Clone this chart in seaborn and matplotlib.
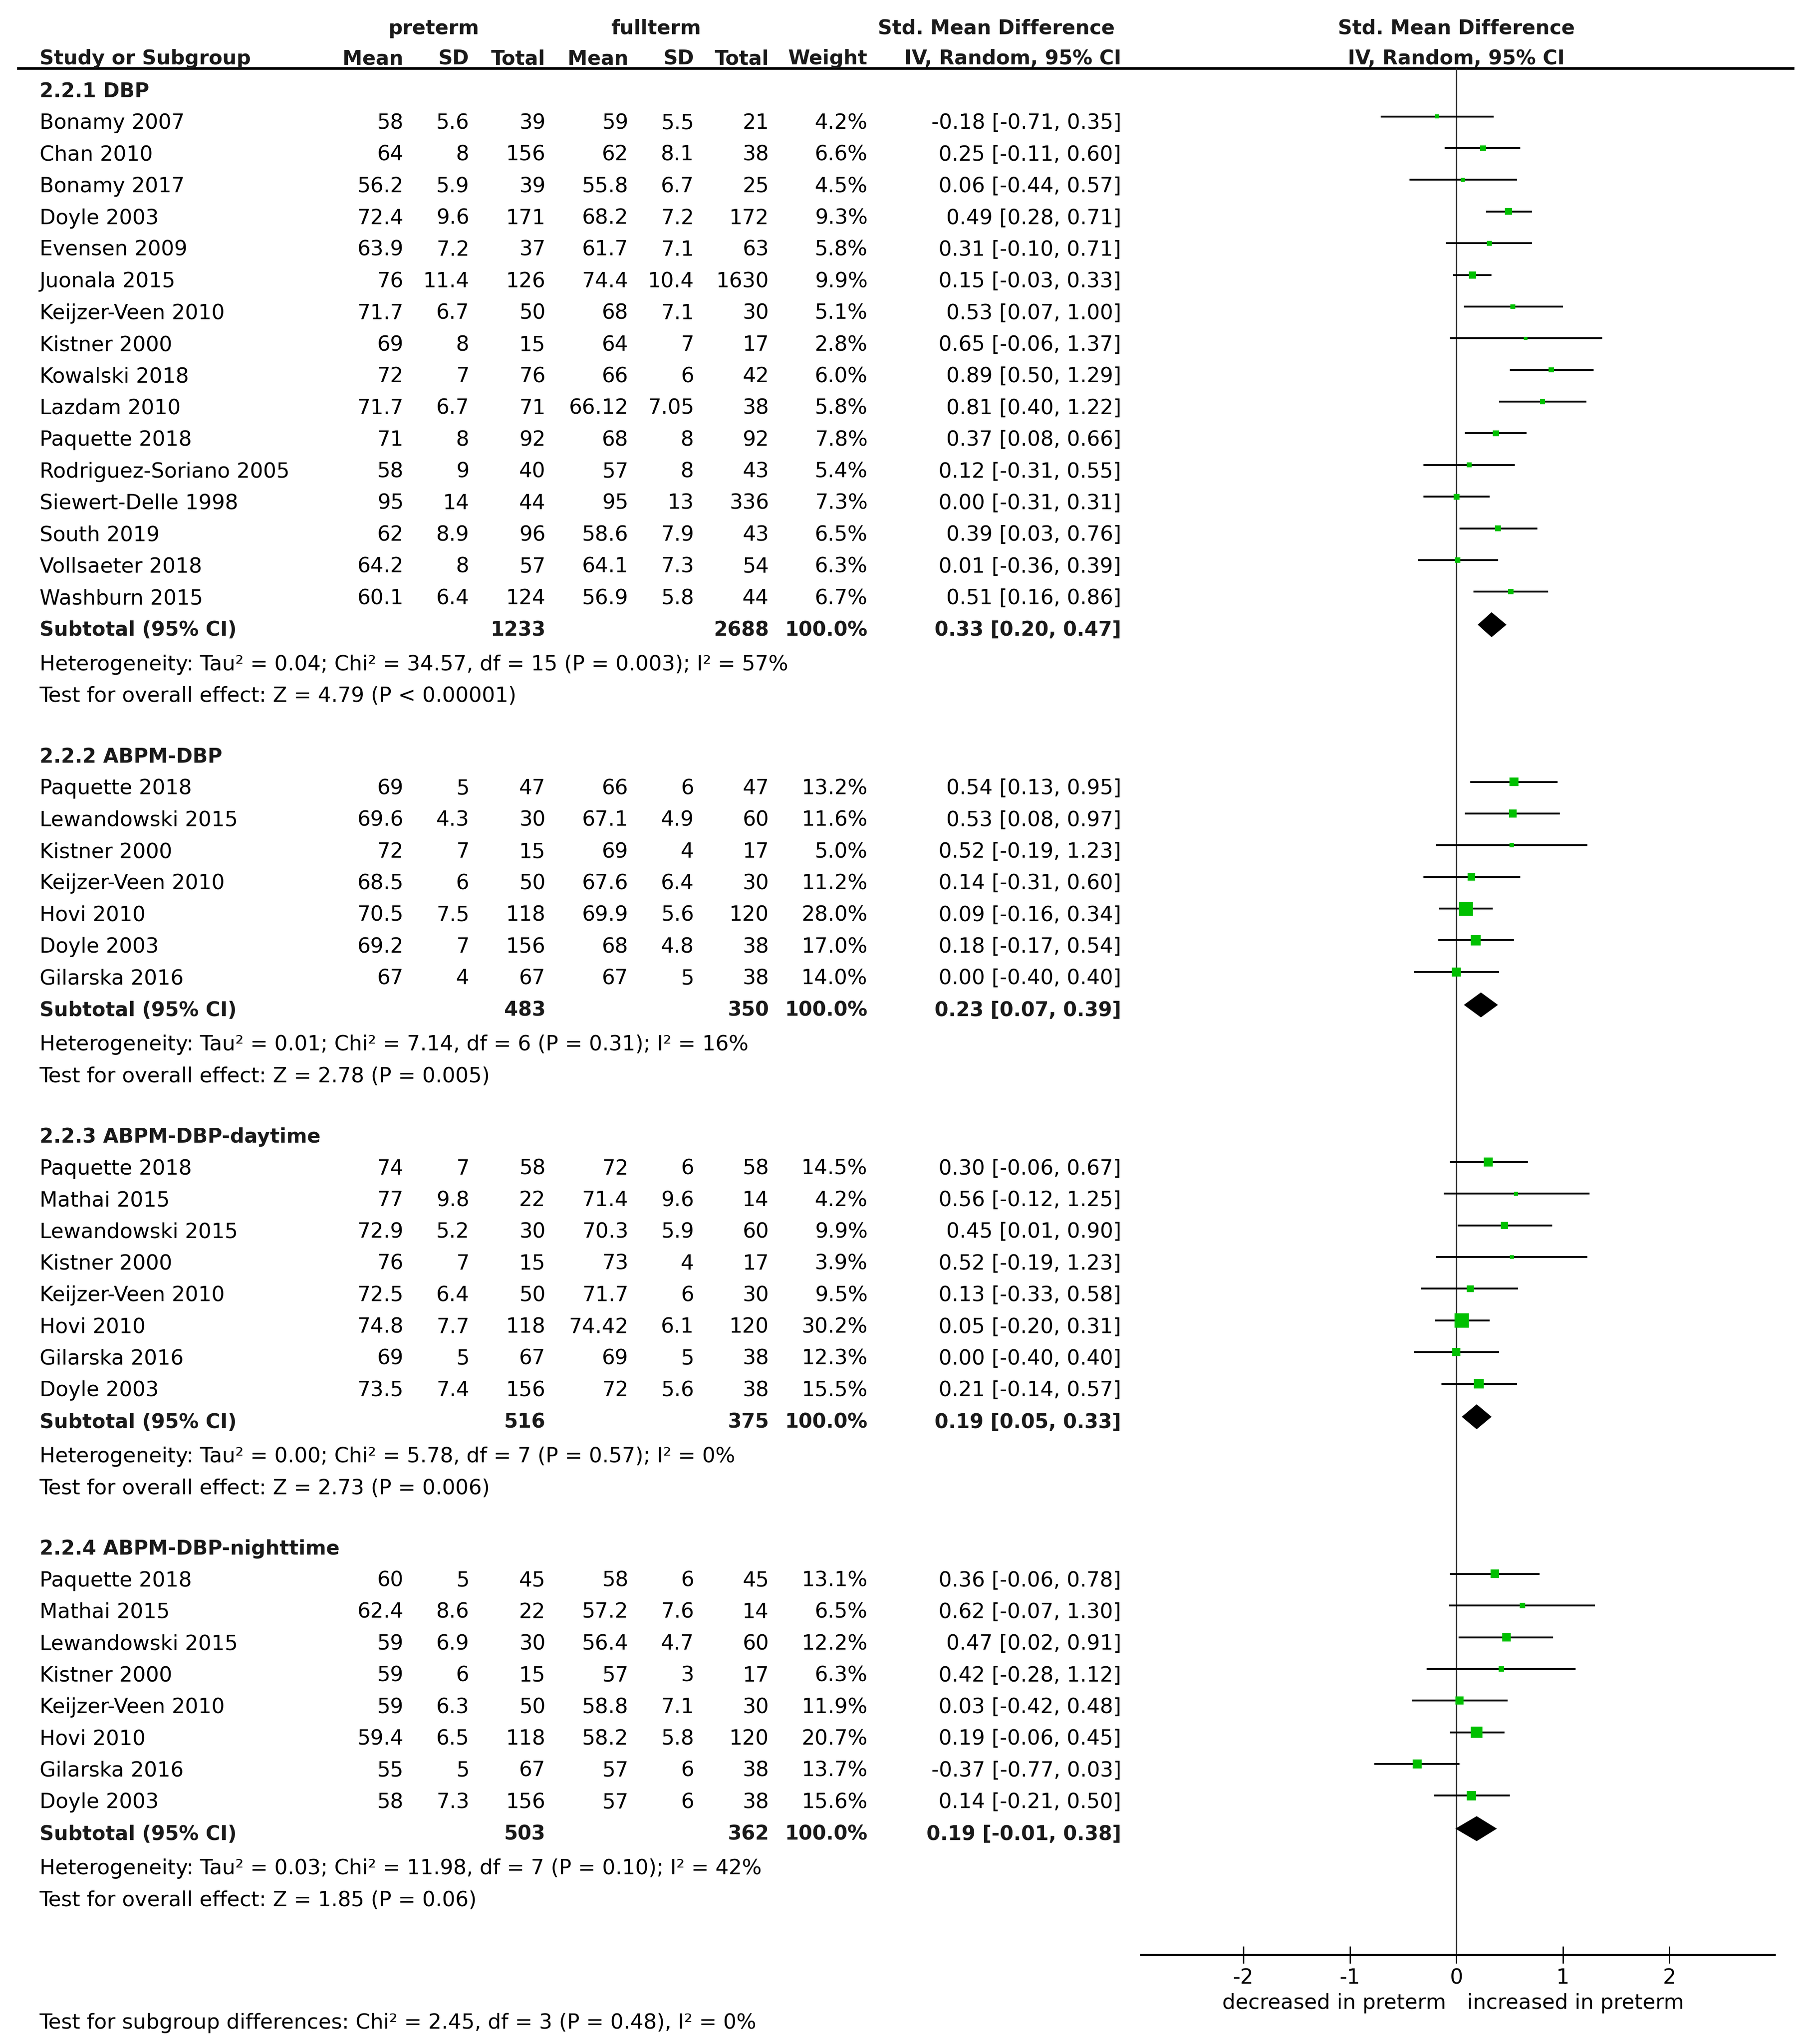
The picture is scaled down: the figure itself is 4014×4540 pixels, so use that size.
import matplotlib
matplotlib.use("Agg")
import matplotlib.pyplot as plt
import numpy as np
import pandas as pd
import seaborn as sns

sns.set_style("white")
plt.rcParams['font.family'] = ['DejaVu Sans']
plt.rcParams['axes.unicode_minus'] = False

# ---- data ----
group_names = ["2.2.1 DBP", "2.2.2 ABPM-DBP", "2.2.3 ABPM-DBP-daytime", "2.2.4 ABPM-DBP-nighttime"]
group_sizes = [16, 7, 8, 8]

study = ["Bonamy 2007", "Chan 2010", "Bonamy 2017", "Doyle 2003", "Evensen 2009", "Juonala 2015",
         "Keijzer-Veen 2010", "Kistner 2000", "Kowalski 2018", "Lazdam 2010", "Paquette 2018",
         "Rodriguez-Soriano 2005", "Siewert-Delle 1998", "South 2019", "Vollsaeter 2018", "Washburn 2015",
         "Paquette 2018", "Lewandowski 2015", "Kistner 2000", "Keijzer-Veen 2010", "Hovi 2010", "Doyle 2003",
         "Gilarska 2016",
         "Paquette 2018", "Mathai 2015", "Lewandowski 2015", "Kistner 2000", "Keijzer-Veen 2010", "Hovi 2010",
         "Gilarska 2016", "Doyle 2003",
         "Paquette 2018", "Mathai 2015", "Lewandowski 2015", "Kistner 2000", "Keijzer-Veen 2010", "Hovi 2010",
         "Gilarska 2016", "Doyle 2003"]
pre_mean = [58, 64, 56.2, 72.4, 63.9, 76, 71.7, 69, 72, 71.7, 71, 58, 95, 62, 64.2, 60.1,
            69, 69.6, 72, 68.5, 70.5, 69.2, 67,
            74, 77, 72.9, 76, 72.5, 74.8, 69, 73.5,
            60, 62.4, 59, 59, 59, 59.4, 55, 58]
pre_sd = [5.6, 8, 5.9, 9.6, 7.2, 11.4, 6.7, 8, 7, 6.7, 8, 9, 14, 8.9, 8, 6.4,
          5, 4.3, 7, 6, 7.5, 7, 4,
          7, 9.8, 5.2, 7, 6.4, 7.7, 5, 7.4,
          5, 8.6, 6.9, 6, 6.3, 6.5, 5, 7.3]
pre_n = [39, 156, 39, 171, 37, 126, 50, 15, 76, 71, 92, 40, 44, 96, 57, 124,
         47, 30, 15, 50, 118, 156, 67,
         58, 22, 30, 15, 50, 118, 67, 156,
         45, 22, 30, 15, 50, 118, 67, 156]
full_mean = [59, 62, 55.8, 68.2, 61.7, 74.4, 68, 64, 66, 66.12, 68, 57, 95, 58.6, 64.1, 56.9,
             66, 67.1, 69, 67.6, 69.9, 68, 67,
             72, 71.4, 70.3, 73, 71.7, 74.42, 69, 72,
             58, 57.2, 56.4, 57, 58.8, 58.2, 57, 57]
full_sd = [5.5, 8.1, 6.7, 7.2, 7.1, 10.4, 7.1, 7, 6, 7.05, 8, 8, 13, 7.9, 7.3, 5.8,
           6, 4.9, 4, 6.4, 5.6, 4.8, 5,
           6, 9.6, 5.9, 4, 6, 6.1, 5, 5.6,
           6, 7.6, 4.7, 3, 7.1, 5.8, 6, 6]
full_n = [21, 38, 25, 172, 63, 1630, 30, 17, 42, 38, 92, 43, 336, 43, 54, 44,
          47, 60, 17, 30, 120, 38, 38,
          58, 14, 60, 17, 30, 120, 38, 38,
          45, 14, 60, 17, 30, 120, 38, 38]
weight = [4.2, 6.6, 4.5, 9.3, 5.8, 9.9, 5.1, 2.8, 6.0, 5.8, 7.8, 5.4, 7.3, 6.5, 6.3, 6.7,
          13.2, 11.6, 5.0, 11.2, 28.0, 17.0, 14.0,
          14.5, 4.2, 9.9, 3.9, 9.5, 30.2, 12.3, 15.5,
          13.1, 6.5, 12.2, 6.3, 11.9, 20.7, 13.7, 15.6]
smd = [-0.18, 0.25, 0.06, 0.49, 0.31, 0.15, 0.53, 0.65, 0.89, 0.81, 0.37, 0.12, 0.00, 0.39, 0.01, 0.51,
       0.54, 0.53, 0.52, 0.14, 0.09, 0.18, 0.00,
       0.30, 0.56, 0.45, 0.52, 0.13, 0.05, 0.00, 0.21,
       0.36, 0.62, 0.47, 0.42, 0.03, 0.19, -0.37, 0.14]
ci_lo = [-0.71, -0.11, -0.44, 0.28, -0.10, -0.03, 0.07, -0.06, 0.50, 0.40, 0.08, -0.31, -0.31, 0.03, -0.36, 0.16,
         0.13, 0.08, -0.19, -0.31, -0.16, -0.17, -0.40,
         -0.06, -0.12, 0.01, -0.19, -0.33, -0.20, -0.40, -0.14,
         -0.06, -0.07, 0.02, -0.28, -0.42, -0.06, -0.77, -0.21]
ci_hi = [0.35, 0.60, 0.57, 0.71, 0.71, 0.33, 1.00, 1.37, 1.29, 1.22, 0.66, 0.55, 0.31, 0.76, 0.39, 0.86,
         0.95, 0.97, 1.23, 0.60, 0.34, 0.54, 0.40,
         0.67, 1.25, 0.90, 1.23, 0.58, 0.31, 0.40, 0.57,
         0.78, 1.30, 0.91, 1.12, 0.48, 0.45, 0.03, 0.50]

sub_pre_n = [1233, 483, 516, 503]
sub_full_n = [2688, 350, 375, 362]
sub_smd = [0.33, 0.23, 0.19, 0.19]
sub_lo = [0.20, 0.07, 0.05, -0.01]
sub_hi = [0.47, 0.39, 0.33, 0.38]
heterogeneity = ["Heterogeneity: Tau² = 0.04; Chi² = 34.57, df = 15 (P = 0.003); I² = 57%",
                 "Heterogeneity: Tau² = 0.01; Chi² = 7.14, df = 6 (P = 0.31); I² = 16%",
                 "Heterogeneity: Tau² = 0.00; Chi² = 5.78, df = 7 (P = 0.57); I² = 0%",
                 "Heterogeneity: Tau² = 0.03; Chi² = 11.98, df = 7 (P = 0.10); I² = 42%"]
overall_effect = ["Test for overall effect: Z = 4.79 (P < 0.00001)",
                  "Test for overall effect: Z = 2.78 (P = 0.005)",
                  "Test for overall effect: Z = 2.73 (P = 0.006)",
                  "Test for overall effect: Z = 1.85 (P = 0.06)"]
subgroup_test = "Test for subgroup differences: Chi² = 2.45, df = 3 (P = 0.48), I² = 0%"
x_ticks = [-2, -1, 0, 1, 2]

df = pd.DataFrame({"study": study, "pre_mean": pre_mean, "pre_sd": pre_sd, "pre_n": pre_n,
                   "full_mean": full_mean, "full_sd": full_sd, "full_n": full_n,
                   "weight": weight, "smd": smd, "lo": ci_lo, "hi": ci_hi})
df["group"] = np.repeat(np.arange(len(group_names)), group_sizes)
# box area grows a little faster than weight, as in the RevMan output
df["box"] = (7.44 * (df["weight"] / 28.0) ** 0.64) ** 2

# ---- layout (units: pixels of a 1375 px wide rendering) ----
W, H = 1374.7, 1554.8
ROW0, STEP = 68, 24.1
FS, FSB = 11.1, 10.6
col_x = {"pre_mean": 307, "pre_sd": 357, "pre_n": 415, "full_mean": 478,
         "full_sd": 528, "full_n": 585, "weight": 660, "ci": 853}

line = 0
study_line, head_line, sub_line = [], [], []
for g, n in enumerate(group_sizes):
    head_line.append(line)
    study_line += list(range(line + 1, line + 1 + n))
    sub_line.append(line + n + 1)
    line += n + 5
df["y"] = ROW0 + STEP * np.array(study_line)
sub_y = ROW0 + STEP * np.array(sub_line)
head_y = ROW0 + STEP * np.array(head_line)

fig = plt.figure(figsize=(4014 / 300, 4540 / 300), dpi=300)
tab = fig.add_axes([0, 0, 1, 1])
tab.set_xlim(0, W)
tab.set_ylim(H, 0)
tab.axis("off")

ax = fig.add_axes([868 / W, 1 - 1487 / H, (1350 - 868) / W, (1487 - 52) / H])
ax.patch.set_alpha(0)

MK = -3.5   # marker sits a bit above the text middle
BL = 6.0    # text baseline below the row middle

# CI whiskers and weighted squares
ax.hlines(df["y"] + MK, df["lo"], df["hi"], color="black", lw=1.0, zorder=2)
amax = df["box"].max()
sns.scatterplot(data=df, x="smd", y=df["y"] + MK, size="box", sizes=(0, amax), size_norm=(0, amax),
                marker="s", color="#00c000", edgecolor="none", linewidth=0, legend=False, ax=ax, zorder=3)
# pooled diamonds
for est, lo, hi, y in zip(sub_smd, sub_lo, sub_hi, sub_y):
    yc = y + MK + 1
    ax.fill([lo, est, hi, est], [yc, yc - 9.5, yc, yc + 9.5], color="black", lw=0, zorder=3)
ax.axvline(0, color="#333333", lw=0.75, zorder=1)

ax.set_xlim((868 - 1108) / 81, (1350 - 1108) / 81)
ax.set_ylim(1487, 52)
ax.set_xticks(x_ticks)
ax.set_yticks([])
ax.set_xlabel("")
ax.set_ylabel("")
for s in ["top", "left", "right"]:
    ax.spines[s].set_visible(False)
ax.spines["bottom"].set_linewidth(1.1)
ax.spines["bottom"].set_color("black")
ax.tick_params(axis="x", direction="inout", length=9, width=0.7, pad=2.5, labelsize=FS,
               colors="black", bottom=True)

# ---- table text ----
def put(x, y, s, ha="right", bold=False):
    tab.text(x, y + BL, s, ha=ha, va="baseline", fontsize=FSB if bold else FS,
             fontweight="bold" if bold else "normal", color="#1a1a1a" if bold else "black")

put(330, 20, "preterm", ha="center", bold=True)
put(499, 20, "fullterm", ha="center", bold=True)
put(758, 20, "Std. Mean Difference", ha="center", bold=True)
put(1108, 20, "Std. Mean Difference", ha="center", bold=True)
put(30, 43, "Study or Subgroup", ha="left", bold=True)
for key, lab in [("pre_mean", "Mean"), ("pre_sd", "SD"), ("pre_n", "Total"), ("full_mean", "Mean"),
                 ("full_sd", "SD"), ("full_n", "Total"), ("weight", "Weight"), ("ci", "IV, Random, 95% CI")]:
    put(col_x[key], 43, lab, bold=True)
put(1108, 43, "IV, Random, 95% CI", ha="center", bold=True)
tab.plot([13, 1365], [52, 52], color="black", lw=1.4, solid_capstyle="butt")

for _, r in df.iterrows():
    y = r["y"]
    put(30, y, r["study"], ha="left")
    for key in ["pre_mean", "pre_sd", "full_mean", "full_sd"]:
        put(col_x[key], y, f"{r[key]:g}")
    put(col_x["pre_n"], y, f"{int(r['pre_n'])}")
    put(col_x["full_n"], y, f"{int(r['full_n'])}")
    put(col_x["weight"], y, f"{r['weight']:.1f}%")
    put(col_x["ci"], y, f"{r['smd']:.2f} [{r['lo']:.2f}, {r['hi']:.2f}]")

for g in range(len(group_names)):
    put(30, head_y[g], group_names[g], ha="left", bold=True)
    y = sub_y[g]
    put(30, y, "Subtotal (95% CI)", ha="left", bold=True)
    put(col_x["pre_n"], y, f"{sub_pre_n[g]}", bold=True)
    put(col_x["full_n"], y, f"{sub_full_n[g]}", bold=True)
    put(col_x["weight"], y, "100.0%", bold=True)
    put(col_x["ci"], y, f"{sub_smd[g]:.2f} [{sub_lo[g]:.2f}, {sub_hi[g]:.2f}]", bold=True)
    put(30, y + STEP + 2, heterogeneity[g], ha="left")
    put(30, y + 2 * STEP + 2, overall_effect[g], ha="left")

put(1100, 1522, "decreased in preterm")
put(1116, 1522, "increased in preterm", ha="left")
put(30, 1537, subgroup_test, ha="left")

fig.savefig("out.png", dpi=300)
